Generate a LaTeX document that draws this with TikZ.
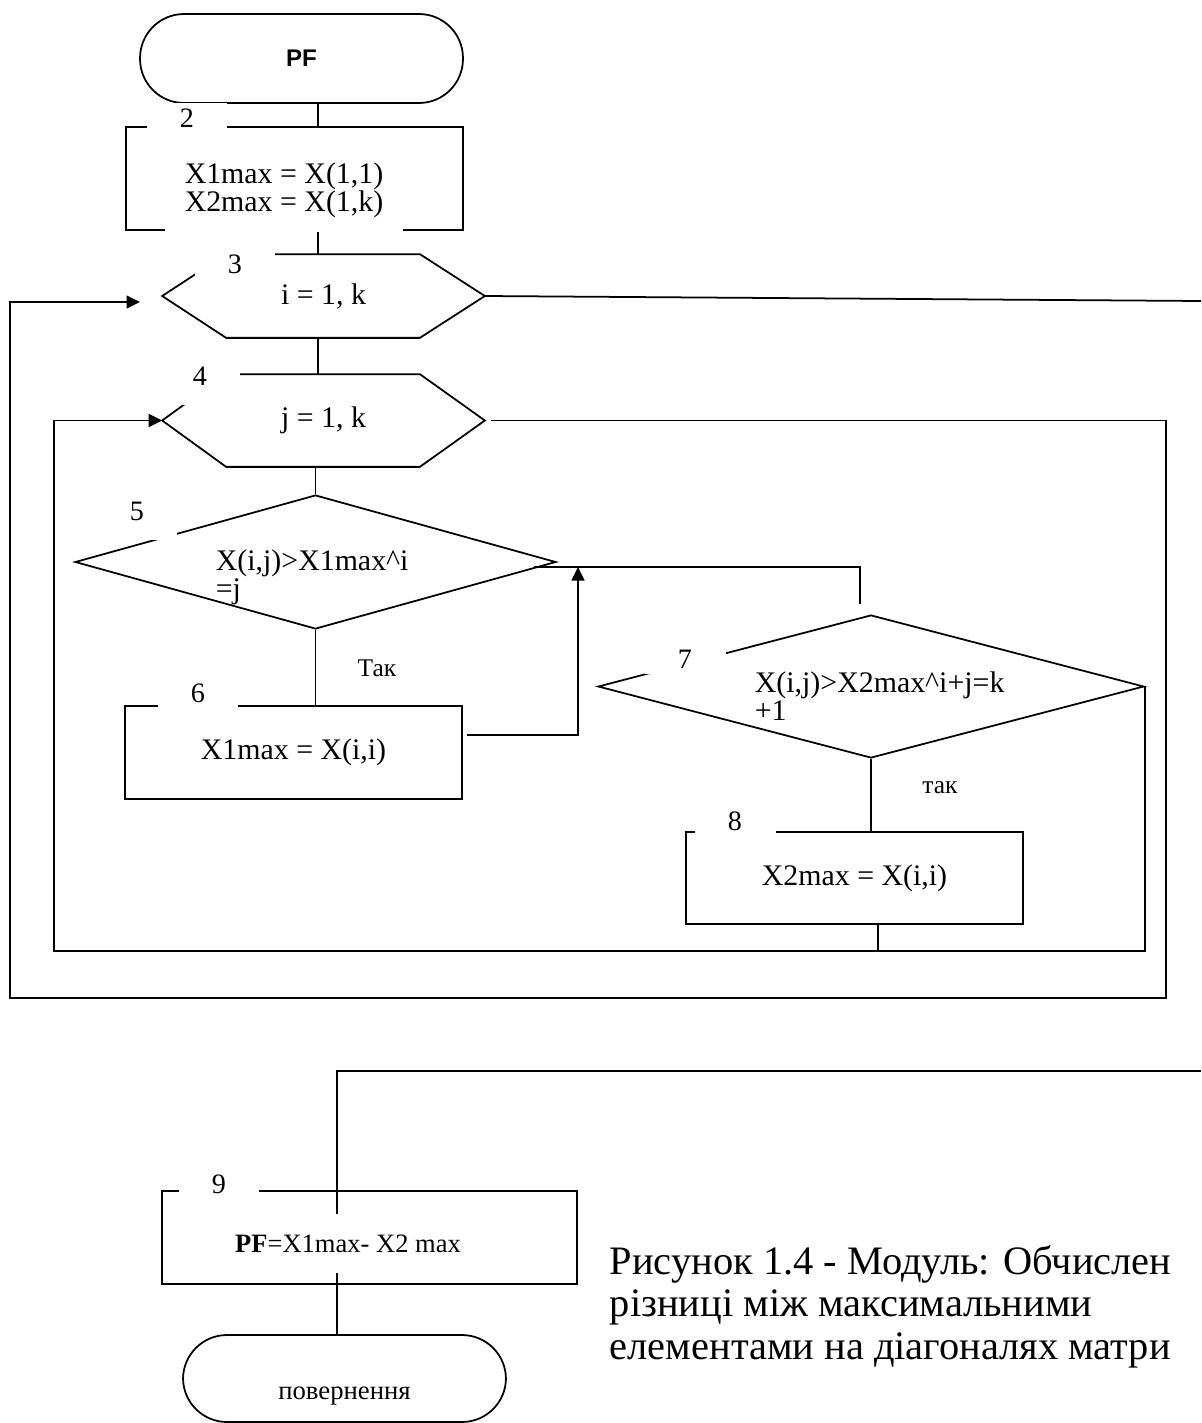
\documentclass[tikz,border=0pt]{standalone}
\usepackage{fontspec}
\setmainfont{Liberation Serif}
\newfontfamily\headfont{Liberation Sans}
\usetikzlibrary{shapes.geometric,arrows.meta,positioning,calc}

\begin{document}
\begin{tikzpicture}[x=0.02cm,y=-0.02cm,line width=1pt,
  txt/.style={font=\fontsize{17}{15.9}\selectfont, inner sep=0pt},
  term/.style={draw, rounded corners=0.88cm, minimum width=6.46cm, minimum height=1.78cm},
  procbox/.style={draw, minimum width=6.74cm, minimum height=1.86cm},
  loopnode/.style={txt, minimum width=6.42cm},
  cond/.style={draw, diamond, inner sep=0pt},
  numlbl/.style={fill=white, inner sep=0pt, anchor=base, minimum width=1.62cm,
    text height=0.48cm, text depth=0.12cm, font=\fontsize{16}{16}\selectfont},
  arr/.style={-{Triangle[length=0.27cm,width=0.26cm]}}]
\useasboundingbox (0,0) rectangle (1201,1423);

% blocks
\node[term, font=\headfont\bfseries\fontsize{13.7}{14}\selectfont] (t1) at (301.5,58.5) {PF};
\node[procbox, minimum height=2.06cm] (b2) at (294.5,178.5) {};
\node[loopnode, minimum height=1.64cm] (h3) at (323.5,296) {i = 1, k};
\node[loopnode, minimum height=1.82cm] (h4) at (323.5,420.5) {j = 1, k};
\node[cond, minimum width=9.62cm, minimum height=2.68cm] (d5) at (315.5,562) {};
\node[procbox, txt] (b6) at (293.5,752.5) {X1max = X(i,i)};
\node[cond, minimum width=10.92cm, minimum height=2.86cm] (d7) at (871,686.5) {};
\node[procbox, minimum height=1.84cm, txt] (b8) at (854.5,878) {X2max = X(i,i)};
\node[procbox, minimum width=8.3cm] (b9) at (369.5,1237.5) {};
\node[term, minimum height=1.74cm, txt, font=\fontsize{15.2}{15}\selectfont,
  text height=0.84cm, text depth=0pt] (t10) at (344.5,1378.5) {повернення};

% hexagon outlines of the loops
\draw (h3.west) -- ([xshift=1.28cm]h3.north west) -- ([xshift=-1.3cm]h3.north east) -- (h3.east)
  -- ([xshift=-1.3cm]h3.south east) -- ([xshift=1.28cm]h3.south west) -- cycle;
\draw (h4.west) -- ([xshift=1.28cm]h4.north west) -- ([xshift=-1.3cm]h4.north east) -- (h4.east)
  -- ([xshift=-1.3cm]h4.south east) -- ([xshift=1.28cm]h4.south west) -- cycle;

\coordinate (spine) at (318,0);
\coordinate (spine9) at (337,0);
\coordinate (pgA) at (1201,301);
\coordinate (pgB) at (1201,1071);
\coordinate (iin) at (140,302);
\coordinate (iloop) at (10,998);
\coordinate (iloopR) at (1166,998);
\coordinate (jloop) at (54,951);
\coordinate (ret7) at (860,604);
\coordinate (ret5) at (534,567);
\coordinate (b6out) at (467,735);
\coordinate (join) at (578,567);

% connectors
\draw (t1.south -| spine) -- (b2.north -| spine);
\draw (b2.south -| spine) -- (h3.north -| spine);
\draw (h3.south -| spine) -- (h4.north -| spine);
\draw (h4.south -| d5.north) -- (d5.north);
\draw (d5.south) -- (d5.south |- b6.north);
\draw (ret7) |- (ret5);
\draw[arr] (b6out) -| (join);
\draw (d7.south) -- (d7.south |- b8.north);
\draw ([xshift=0.47cm]b8.south) -- ([xshift=0.47cm]b8.south |- jloop);
\draw[arr] (d7.east) |- (jloop) |- (h4.west);
\draw[arr] ([xshift=0.12cm]h4.east) -| (iloopR) -- (iloop) |- (iin);
\draw (h3.east) -- (pgA);
\draw (pgB) -| (t10.north -| spine9);

% texts
\node[txt, fill=white, align=left, minimum width=4.76cm, minimum height=1.68cm] (t2) at (284,190)
  {X1max = X(1,1)\\X2max = X(1,k)};
\node[txt, anchor=west, align=left] (t5) at (215,577) {X(i,j)>X1max\^{}i\\=j};
\node[txt, anchor=west, align=left] (t7) at (754,696) {X(i,j)>X2max\^{}i+j=k\\+1};
\node[txt, fill=white, minimum height=1.18cm, font=\fontsize{15.1}{15}\selectfont] (t9) at (348,1243.5)
  {\textbf{PF}=X1max- X2 max};
\node[txt, font=\fontsize{14.5}{14}\selectfont] (yes5) at (377,668) {Так};
\node[txt, font=\fontsize{14.5}{14}\selectfont] (yes7) at (940,788) {так};

% block numbers
\node[numlbl] (n2) at (187,127) {2};
\node[numlbl] (n3) at (235,273) {3};
\node[numlbl, text depth=0.4cm] (n4) at (200,385) {4};
\node[numlbl, text depth=0.4cm] (n5) at (137,520) {5};
\node[numlbl] (n6) at (198,702) {6};
\node[numlbl] (n7) at (685,668) {7};
\node[numlbl] (n8) at (735,830) {8};
\node[numlbl] (n9) at (219,1193) {9};

\node[anchor=north west, align=left, inner sep=0pt, font=\fontsize{23}{24}\selectfont] (cap) at (609,1245)
  {Рисунок 1.4 - Модуль: Обчислен\\різниці між максимальними\\елементами на діагоналях матри};
\end{tikzpicture}
\end{document}
